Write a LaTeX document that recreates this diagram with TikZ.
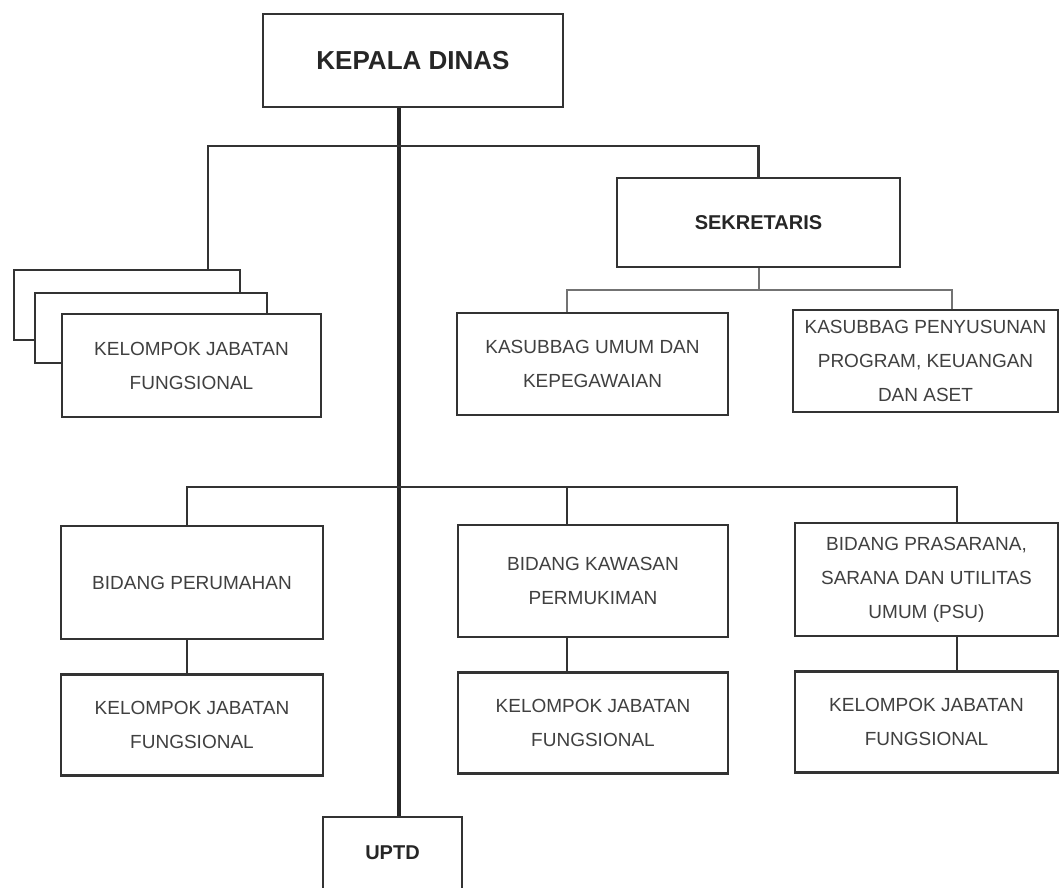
\documentclass[tikz,border=0pt]{standalone}
\usepackage{fontspec}
\setmainfont{Liberation Sans}
\usepackage{xcolor}
\usepackage{tikz}
\usetikzlibrary{positioning}

\begin{document}
\begin{tikzpicture}[
  x=1pt, y=-1pt,
  node distance=33pt,
  unit/.style={rectangle, draw=black!80, line width=2.8pt, fill=white, align=center,
               text=black!75, inner sep=2pt, font=\fontsize{19}{34}\selectfont},
  head/.style={unit, text=black!85, font=\fontsize{26}{30}\selectfont\bfseries},
  sub/.style={unit, text=black!85, font=\fontsize{20}{24}\selectfont\bfseries},
  link/.style={draw=black!80, line width=2.8pt},
  thinlink/.style={draw=black!55, line width=2pt},
  spineline/.style={draw=black!85, line width=4pt}
]
\useasboundingbox (0,0) rectangle (1060,887);

\node[head, minimum width=300pt, minimum height=93pt] (kadis) at (413,60.5) {KEPALA DINAS};
\node[sub, minimum width=283pt, minimum height=89pt] (sekr) at (758.5,222.5) {SEKRETARIS};

% stacked boxes
\node[unit, minimum width=226pt, minimum height=70pt] (kjfback) at (127,305) {};
\node[unit, minimum width=232pt, minimum height=70pt] (kjfmid) at (151,328) {};
\node[unit, minimum width=259pt, minimum height=103pt] (kjf) at (191.5,365.5) {KELOMPOK JABATAN\\FUNGSIONAL};

\node[unit, minimum width=271pt, minimum height=102pt] (kasum) at (592.5,364) {KASUBBAG UMUM DAN\\KEPEGAWAIAN};
\node[unit, minimum width=265pt, minimum height=102pt] (kaspro) at (925.5,361) {KASUBBAG PENYUSUNAN\\PROGRAM, KEUANGAN\\DAN ASET};

\node[unit, minimum width=262pt, minimum height=113pt] (bidper) at (192,582.5) {BIDANG PERUMAHAN};
\node[unit, minimum width=270pt, minimum height=112pt] (bidkaw) at (593,581) {BIDANG KAWASAN\\PERMUKIMAN};
\node[unit, minimum width=263pt, minimum height=113pt] (bidpsu) at (926.5,579.5) {BIDANG PRASARANA,\\SARANA DAN UTILITAS\\UMUM (PSU)};

\node[unit, minimum width=262pt, minimum height=101pt, below=of bidper] (kjfper) {KELOMPOK JABATAN\\FUNGSIONAL};
\node[unit, minimum width=270pt, minimum height=101pt, below=of bidkaw] (kjfkaw) {KELOMPOK JABATAN\\FUNGSIONAL};
\node[unit, minimum width=263pt, minimum height=101pt, below=of bidpsu] (kjfpsu) {KELOMPOK JABATAN\\FUNGSIONAL};

\node[sub, minimum width=139pt, minimum height=72pt] (uptd) at (392.5,853) {UPTD};

% branch points
\coordinate (spine) at (399,0);
\coordinate (rowA) at (208,146);
\coordinate (rowB) at (567,290);
\coordinate (rowBr) at (952,290);
\coordinate (rowC) at (187,487);
\coordinate (rowCm) at (567,487);
\coordinate (rowCr) at (957,487);

% main line
\draw[spineline] (kadis.south -| spine) -- (uptd.north -| spine);

% kepala dinas branch
\draw[link] (kjfback.north -| rowA) -- (rowA) -| (sekr.north);

% sekretaris branch
\draw[thinlink] (sekr.south) -- (sekr.south |- rowB);
\draw[thinlink] (kasum.north -| rowB) -- (rowB) -- (rowBr) -- (kaspro.north -| rowBr);

% bidang branch
\draw[link] (bidper.north -| rowC) -- (rowC) -- (rowCr) -- (bidpsu.north -| rowCr);
\draw[link] (rowCm) -- (bidkaw.north -| rowCm);
\draw[link] (bidper.south -| rowC) -- (kjfper.north -| rowC);
\draw[link] (bidkaw.south -| rowCm) -- (kjfkaw.north -| rowCm);
\draw[link] (bidpsu.south -| rowCr) -- (kjfpsu.north -| rowCr);
\end{tikzpicture}
\end{document}
